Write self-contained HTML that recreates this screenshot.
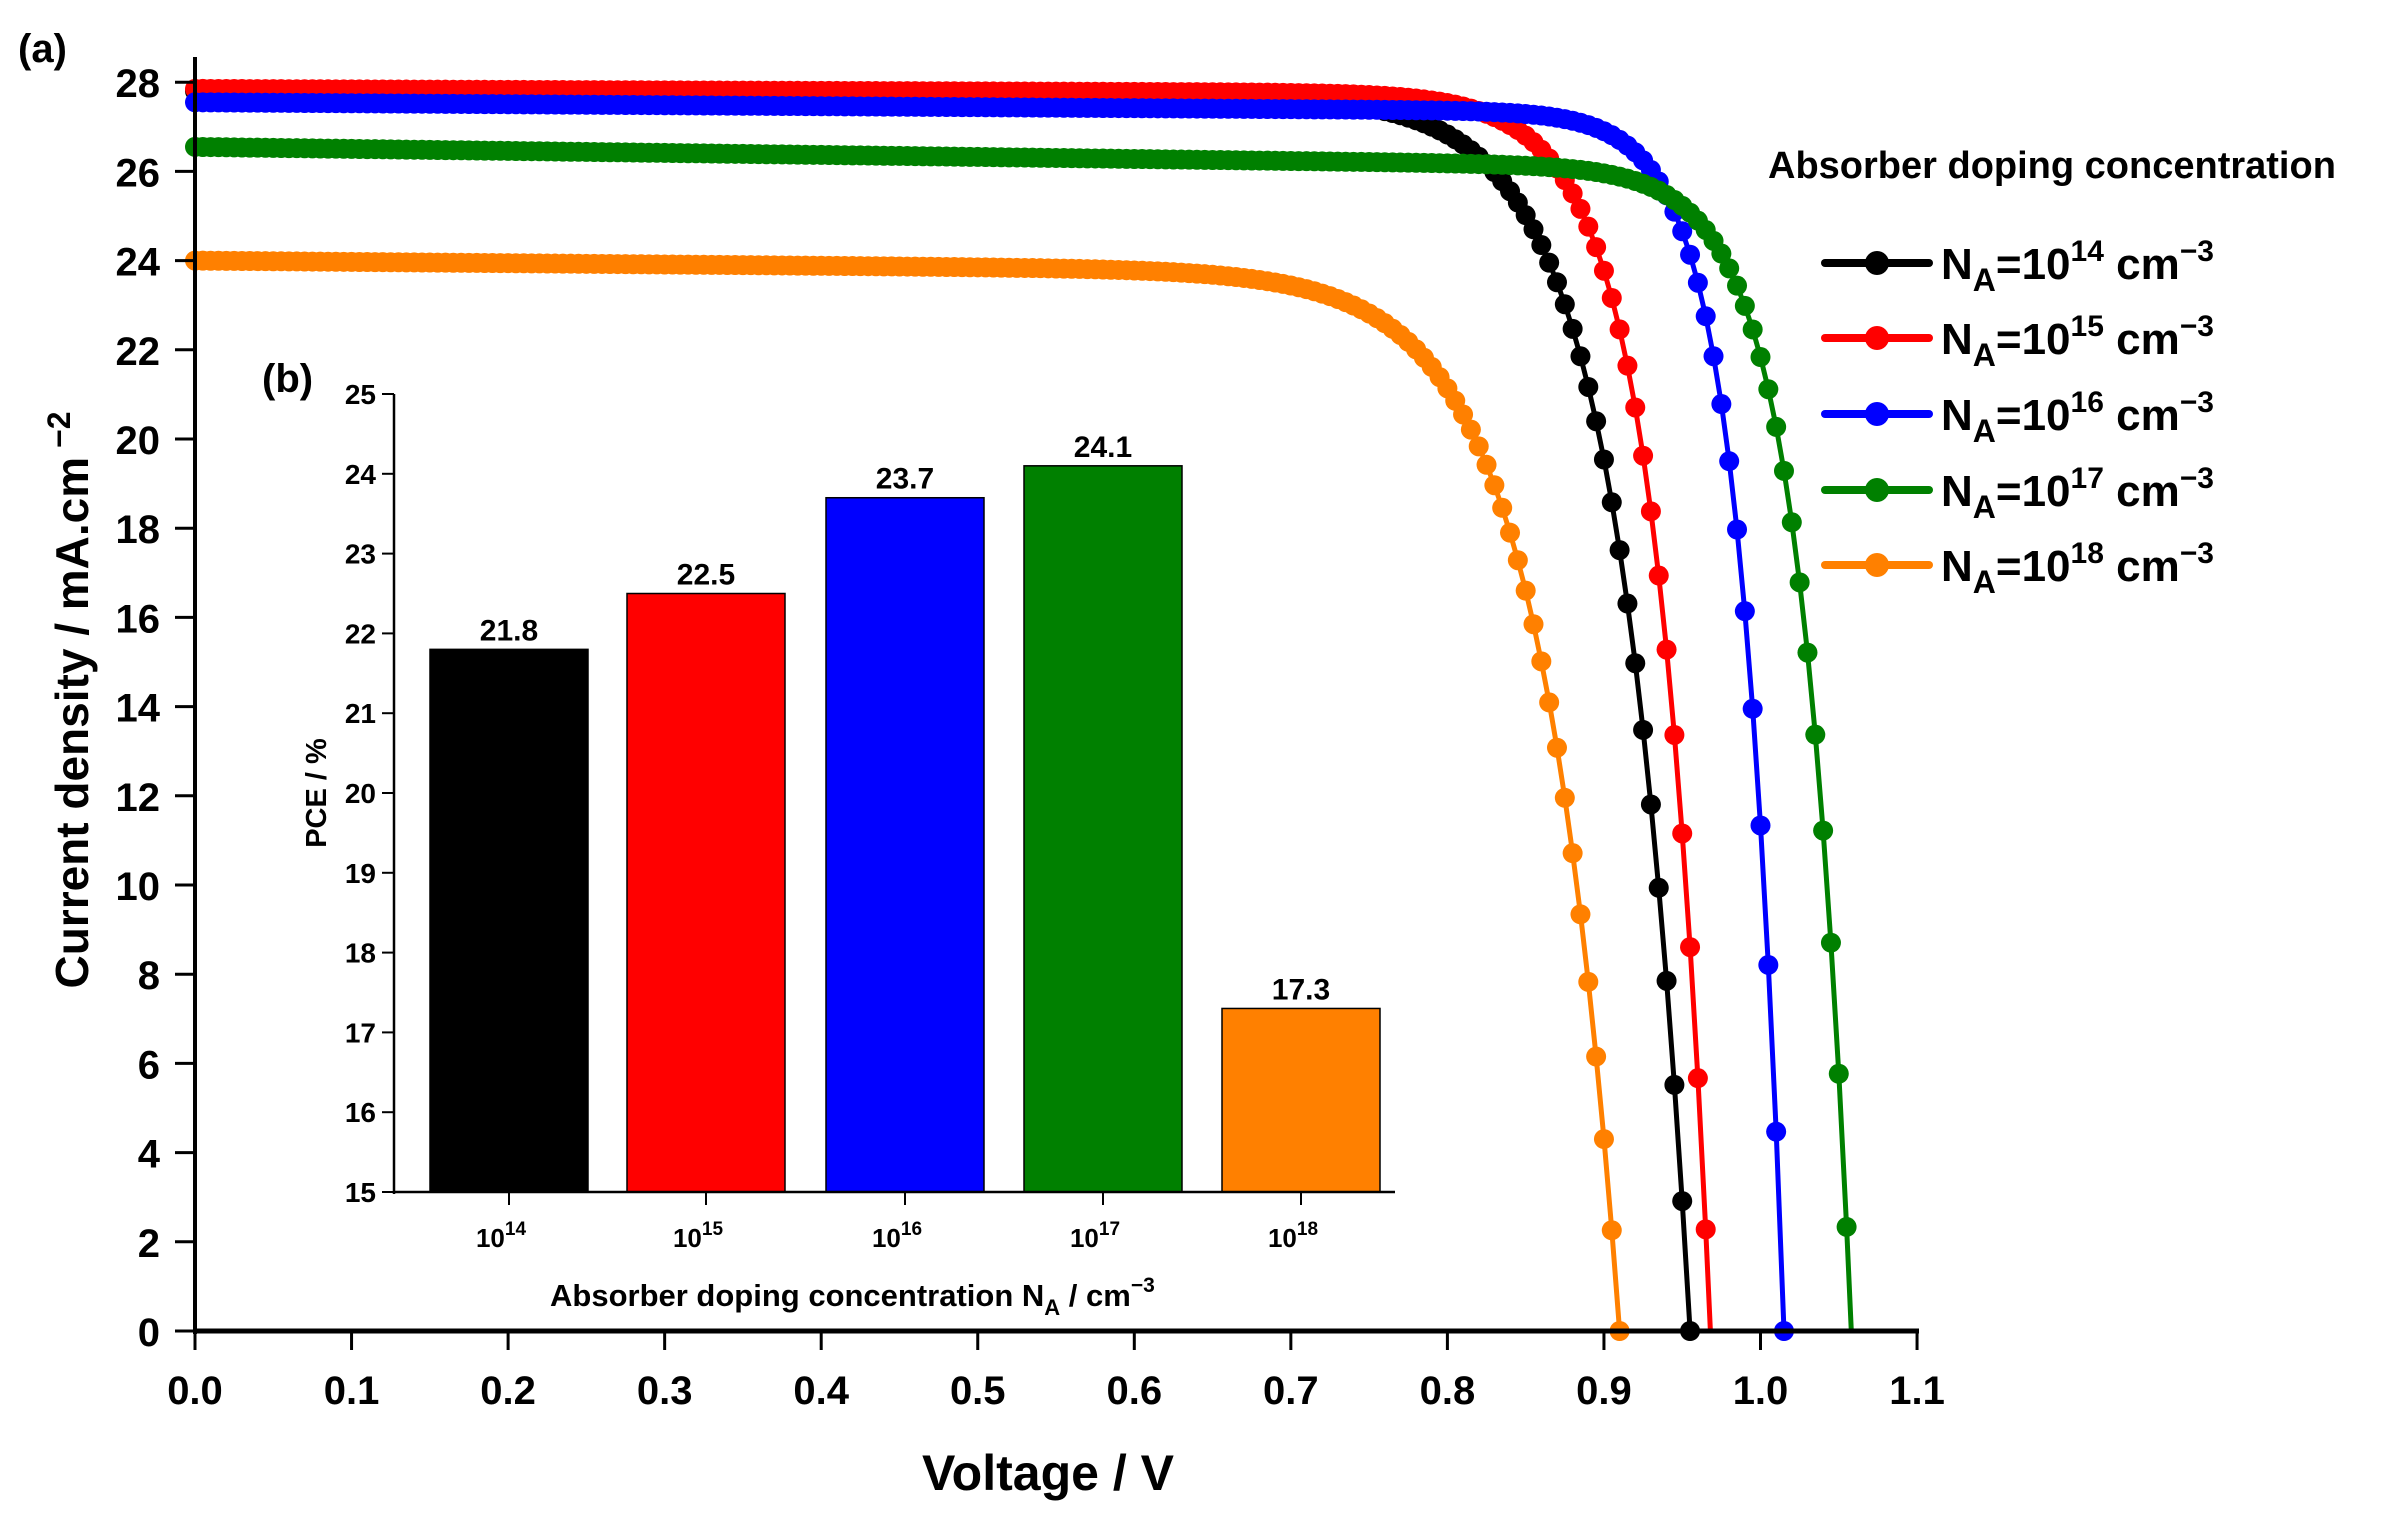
<!DOCTYPE html>
<html><head><meta charset="utf-8"><style>
body{margin:0;background:#fff;}
svg{display:block;font-family:"Liberation Sans",Arial,sans-serif;font-weight:bold;}
</style></head><body>
<svg id="s" width="2388" height="1516" viewBox="0 0 2388 1516" xmlns="http://www.w3.org/2000/svg">
<rect width="2388" height="1516" fill="#fff"/>
<g id="curves"></g>
<line x1="195" y1="57" x2="195" y2="1334" stroke="#000" stroke-width="4"/>
<line x1="193" y1="1331" x2="1919" y2="1331" stroke="#000" stroke-width="5"/>
<g id="ticks"></g>
<text x="18" y="62" font-size="40">(a)</text>
<text x="1048" y="1490" font-size="50" text-anchor="middle">Voltage / V</text>
<text transform="translate(88,700) rotate(-90)" font-size="46" text-anchor="middle">Current density / mA.cm<tspan dy="-18" font-size="32"> −2</tspan></text>
<g id="inset"></g>
<text x="1768" y="178" font-size="38">Absorber doping concentration</text>
<g id="legend"></g>
</svg>
<script>
var NS="http://www.w3.org/2000/svg";
function el(t,a,p,txt){var e=document.createElementNS(NS,t);for(var k in a)e.setAttribute(k,a[k]);if(txt!=null)e.textContent=txt;p.appendChild(e);return e;}
var X=function(v){return 195+v*1565.5;}, Y=function(j){return 1331-j*44.6;};
var ticks=document.getElementById('ticks');
for(var i=0;i<=11;i++){var v=i/10;el('line',{x1:X(v),y1:1331,x2:X(v),y2:1350,stroke:'#000','stroke-width':3},ticks);
el('text',{x:X(v),y:1404,'font-size':40,'text-anchor':'middle'},ticks,v.toFixed(1));}
for(var j=0;j<=28;j+=2){el('line',{x1:175,y1:Y(j),x2:195,y2:Y(j),stroke:'#000','stroke-width':3},ticks);
el('text',{x:160,y:Y(j)+15,'font-size':40,'text-anchor':'end'},ticks,j);}
var series=[
 {c:'#000000',jsc:27.8,a:0.004,voc:0.955,s:0.045},
 {c:'#ff0000',jsc:27.85,a:0.004,voc:0.968,s:0.035},
 {c:'#0000ff',jsc:27.55,a:0.008,voc:1.015,s:0.028},
 {c:'#008000',jsc:26.55,a:0.017,voc:1.058,s:0.032},
 {c:'#ff8000',jsc:24.0,a:0.012,voc:0.910,s:0.050}
];
var cg=document.getElementById('curves');
series.forEach(function(S){
 function J(v){var base=S.jsc*(1-S.a*v);return base*(1-Math.exp((v-S.voc)/S.s))/(1-Math.exp(-S.voc/S.s));}
 var pts=[];for(var v=0;v<=S.voc+1e-9;v+=0.005){var j=J(v);if(j<0)j=0;pts.push([X(v),Y(j)]);}
 pts.push([X(S.voc),Y(0)]);
 el('polyline',{points:pts.map(function(p){return p[0].toFixed(1)+','+p[1].toFixed(1)}).join(' '),fill:'none',stroke:S.c,'stroke-width':5},cg);
 pts.forEach(function(p,i){if(i<pts.length-1)el('circle',{cx:p[0],cy:p[1],r:10,fill:S.c},cg);});
});
var ig=document.getElementById('inset');
var IY=function(p){return 1192-(p-15)*79.8;};
el('rect',{x:394,y:394,width:1001,height:798,fill:'#fff'},ig);
var bars=[[509,21.8,'#000000','14'],[706,22.5,'#ff0000','15'],[905,23.7,'#0000ff','16'],[1103,24.1,'#008000','17'],[1301,17.3,'#ff8000','18']];
bars.forEach(function(b){el('rect',{x:b[0]-79,y:IY(b[1]),width:158,height:1192-IY(b[1]),fill:b[2],stroke:'#000','stroke-width':1.5},ig);
el('text',{x:b[0],y:IY(b[1])-9,'font-size':30,'text-anchor':'middle'},ig,b[1].toFixed(1));
el('line',{x1:b[0],y1:1192,x2:b[0],y2:1205,stroke:'#000','stroke-width':2},ig);
var t=el('text',{x:b[0]-8,y:1247,'font-size':26,'text-anchor':'middle'},ig,'10');el('tspan',{dy:-12,'font-size':19},t,b[3]);});
el('line',{x1:394,y1:394,x2:394,y2:1194,stroke:'#000','stroke-width':2.5},ig);
el('line',{x1:393,y1:1192,x2:1395,y2:1192,stroke:'#000','stroke-width':2.5},ig);
for(var p=15;p<=25;p++){el('line',{x1:382,y1:IY(p),x2:394,y2:IY(p),stroke:'#000','stroke-width':2},ig);
el('text',{x:376,y:IY(p)+10,'font-size':28,'text-anchor':'end'},ig,p);}
el('text',{x:262,y:392,'font-size':40},ig,'(b)');
el('text',{transform:'translate(326,793) rotate(-90)','font-size':29,'text-anchor':'middle'},ig,'PCE / %');
var at=el('text',{x:550,y:1306,'font-size':31},ig,'Absorber doping concentration N');
el('tspan',{dy:9,'font-size':22},at,'A');el('tspan',{dy:-9,'font-size':31},at,' / cm');el('tspan',{dy:-14,'font-size':21},at,'−3');
var lg=document.getElementById('legend');
var lc=['#000000','#ff0000','#0000ff','#008000','#ff8000'],le=['14','15','16','17','18'],ly=[263,338,414,490,565];
for(var i=0;i<5;i++){el('line',{x1:1825,y1:ly[i],x2:1929,y2:ly[i],stroke:lc[i],'stroke-width':8,'stroke-linecap':'round'},lg);
el('circle',{cx:1877,cy:ly[i],r:12,fill:lc[i]},lg);
var t=el('text',{x:1941,y:ly[i]+16,'font-size':44},lg,'N');
el('tspan',{dy:12,'font-size':32},t,'A');el('tspan',{dy:-12,'font-size':44},t,'=10');el('tspan',{dy:-18,'font-size':30},t,le[i]);
el('tspan',{dy:18,'font-size':44},t,' cm');el('tspan',{dy:-18,'font-size':30},t,'−3');}
</script>
</body></html>
